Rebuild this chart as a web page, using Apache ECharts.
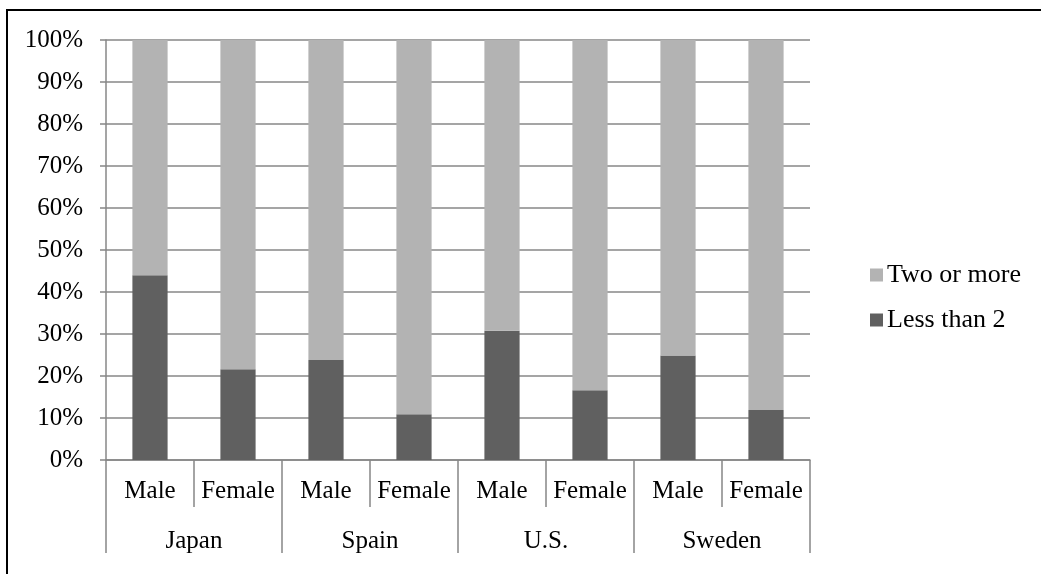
<!DOCTYPE html>
<html>
<head>
<meta charset="utf-8">
<script src="https://cdn.jsdelivr.net/npm/echarts@6/dist/echarts.min.js"></script>
<style>
  html, body { margin: 0; padding: 0; background: #ffffff; }
  #chart { width: 1041px; height: 574px; }
</style>
</head>
<body>
<div id="chart"></div>
<script>
// Share of respondents by country and sex (percent)
const countries = ['Japan', 'Spain', 'U.S.', 'Sweden'];
const sexes = ['Male', 'Female'];
const lessThan2 = [44, 21.6, 23.8, 10.9, 30.8, 16.6, 24.9, 11.9];
const twoOrMore = [56, 78.4, 76.2, 89.1, 69.2, 83.4, 75.1, 88.1];
const yTicks = [0, 10, 20, 30, 40, 50, 60, 70, 80, 90, 100];

// one bar per country/sex pair
const categories = [];
countries.forEach(function () { sexes.forEach(function (s) { categories.push(s); }); });

const FONT = 'Liberation Serif';
const AXIS_GRAY = '#878787';

const chart = echarts.init(document.getElementById('chart'), null, { renderer: 'canvas' });

chart.setOption({
  animation: false,
  backgroundColor: '#ffffff',
  textStyle: { fontFamily: FONT },
  graphic: [{
    type: 'rect',
    shape: { x: 7, y: 10, width: 1100, height: 700 },
    style: { fill: 'none', stroke: '#000000', lineWidth: 2 },
    silent: true
  }],
  grid: { left: 106, right: 231, top: 40, bottom: 114, containLabel: false },
  legend: {
    orient: 'vertical',
    left: 865,
    top: 257,
    itemWidth: 13,
    itemHeight: 13,
    itemGap: 19,
    icon: 'rect',
    data: ['Two or more', 'Less than 2'],
    textStyle: { fontFamily: FONT, fontSize: 26, color: '#000000', padding: [0, 0, 0, -1] }
  },
  xAxis: [{
    type: 'category',
    data: categories,
    boundaryGap: true,
    axisLine: { show: true, lineStyle: { color: AXIS_GRAY, width: 1.5 } },
    axisTick: { show: true, interval: 0, length: 47, lineStyle: { color: AXIS_GRAY, width: 1.5 } },
    axisLabel: { interval: 0, margin: 19, fontFamily: FONT, fontSize: 25, color: '#000000' },
    splitLine: { show: false }
  }, {
    type: 'category',
    data: countries,
    position: 'bottom',
    boundaryGap: true,
    axisLine: { show: false },
    axisTick: { show: true, interval: 0, length: 93, lineStyle: { color: AXIS_GRAY, width: 1.5 } },
    axisLabel: { interval: 0, margin: 69, fontFamily: FONT, fontSize: 25, color: '#000000' },
    splitLine: { show: false }
  }],
  yAxis: {
    type: 'value',
    min: yTicks[0],
    max: yTicks[yTicks.length - 1],
    interval: 10,
    axisLine: { show: true, lineStyle: { color: AXIS_GRAY, width: 1.5 } },
    axisTick: { show: true, inside: false, length: 6, lineStyle: { color: AXIS_GRAY, width: 1.5 } },
    axisLabel: { margin: 23, formatter: '{value}%', fontFamily: FONT, fontSize: 25, color: '#000000' },
    splitLine: { show: true, lineStyle: { color: AXIS_GRAY, width: 1.5 } }
  },
  series: [{
    name: 'Less than 2',
    type: 'bar',
    stack: 'total',
    xAxisIndex: 0,
    barCategoryGap: '60%',
    itemStyle: { color: '#606060' },
    data: lessThan2
  }, {
    name: 'Two or more',
    type: 'bar',
    stack: 'total',
    xAxisIndex: 0,
    barCategoryGap: '60%',
    itemStyle: { color: '#b3b3b3' },
    data: twoOrMore
  }]
});
</script>
</body>
</html>
